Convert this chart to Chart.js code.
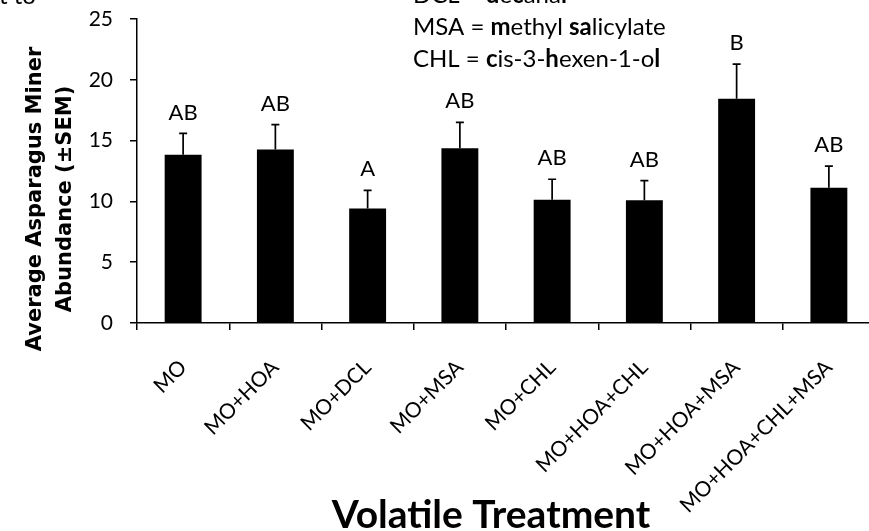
<!DOCTYPE html>
<html>
<head>
<meta charset="utf-8">
<script src="https://cdn.jsdelivr.net/npm/chart.js@4.4.0/dist/chart.umd.min.js"></script>
<style>
  html, body { margin: 0; padding: 0; overflow: hidden; background: #fff; }
  #wrap { position: relative; width: 875px; height: 531px; }
</style>
</head>
<body>
<div id="wrap"><canvas id="chart" width="875" height="531"></canvas></div>
<script>
const treatments = ["MO", "MO+HOA", "MO+DCL", "MO+MSA", "MO+CHL", "MO+HOA+CHL", "MO+HOA+MSA", "MO+HOA+CHL+MSA"];
const meanAbundance = [13.84, 14.26, 9.41, 14.37, 10.13, 10.1, 18.44, 11.13];
const semAbundance = [1.75, 2.05, 1.5, 2.13, 1.69, 1.61, 2.85, 1.77];
const groupLetters = ["AB", "AB", "A", "AB", "AB", "AB", "B", "AB"];
const yTitleLines = ["Average Asparagus Miner", "Abundance (±SEM)"];
const xTitle = "Volatile Treatment";
// abbreviation key, bold letters marked true
const keyLines = [
  [["DCL = ", false], ["d", true], ["e", false], ["c", true], ["ana", false], ["l", true]],
  [["MSA = ", false], ["m", true], ["ethyl ", false], ["sa", true], ["licylate", false]],
  [["CHL = ", false], ["c", true], ["is-3-", false], ["h", true], ["exen-1-o", false], ["l", true]],
];
const cutText = "t to";

const tickFont = { family: "Lato", size: 21 };

// error bars + letters above them
const errorBars = {
  id: "errorBars",
  afterDatasetsDraw(chart) {
    const ctx = chart.ctx;
    const yScale = chart.scales.y;
    const bars = chart.getDatasetMeta(0).data;
    ctx.save();
    ctx.strokeStyle = "#000";
    ctx.fillStyle = "#000";
    ctx.lineWidth = 1.7;
    ctx.font = "22px Lato";
    ctx.textAlign = "center";
    ctx.textBaseline = "middle";
    bars.forEach((bar, i) => {
      const top = yScale.getPixelForValue(meanAbundance[i] + semAbundance[i]);
      ctx.beginPath();
      ctx.moveTo(bar.x, bar.y);
      ctx.lineTo(bar.x, top);
      ctx.moveTo(bar.x - 4, top);
      ctx.lineTo(bar.x + 4, top);
      ctx.stroke();
      ctx.fillText(groupLetters[i], bar.x, top - 21);
    });
    ctx.restore();
  },
};

// axis titles and the abbreviation key
const extraText = {
  id: "extraText",
  afterDraw(chart) {
    const ctx = chart.ctx;
    ctx.save();
    ctx.fillStyle = "#000";

    ctx.save();
    ctx.translate(36, 199);
    ctx.rotate(-Math.PI / 2);
    ctx.font = "bold 21px 'DejaVu Sans'";
    ctx.textAlign = "center";
    ctx.textBaseline = "middle";
    yTitleLines.forEach((line, i) => ctx.fillText(line, 0, i * 30));
    ctx.restore();

    ctx.font = "bold 39px Lato";
    ctx.textAlign = "center";
    ctx.textBaseline = "alphabetic";
    ctx.fillText(xTitle, 491, 528);

    ctx.textAlign = "left";
    keyLines.forEach((runs, i) => {
      let x = 413;
      runs.forEach(([txt, bold]) => {
        ctx.font = (bold ? "bold " : "") + "24px Lato";
        ctx.fillText(txt, x, 3 + i * 32);
        x += ctx.measureText(txt).width;
      });
    });

    ctx.font = "24px Lato";
    ctx.fillText(cutText, -1, 4);
    ctx.restore();
  },
};

const data = {
  labels: treatments,
  datasets: [
    {
      label: "Abundance",
      data: meanAbundance,
      backgroundColor: "#000",
      borderWidth: 0,
      barPercentage: 0.4,
      categoryPercentage: 1,
    },
  ],
};

const config = {
  type: "bar",
  data: data,
  options: {
    responsive: false,
    animation: false,
    layout: { padding: { top: 19, left: 0, right: 0, bottom: 0 } },
    plugins: {
      legend: { display: false },
      tooltip: { enabled: false },
    },
    scales: {
      x: {
        grid: { drawOnChartArea: false, drawTicks: true, tickLength: 7, color: "#000", lineWidth: 1.5 },
        border: { color: "#000", width: 1.5 },
        ticks: { color: "#000", font: tickFont, maxRotation: 45, minRotation: 45, autoSkip: false, padding: 25 },
        afterFit: (scale) => { scale.height = 208; },
      },
      y: {
        min: 0,
        max: 25,
        grid: { drawOnChartArea: false, drawTicks: true, tickLength: 7, color: "#000", lineWidth: 1.5 },
        border: { color: "#000", width: 1.5 },
        ticks: { color: "#000", font: tickFont, stepSize: 5, padding: 17 },
        afterFit: (scale) => {
          scale.width = 137;
          // tick padding would otherwise push the plot down
          scale.paddingTop = 0;
          scale.paddingBottom = 0;
        },
      },
    },
  },
  plugins: [errorBars, extraText],
};

const chartJs = document.querySelector("#chart");
let mychart = new Chart(chartJs, config);
</script>
</body>
</html>
